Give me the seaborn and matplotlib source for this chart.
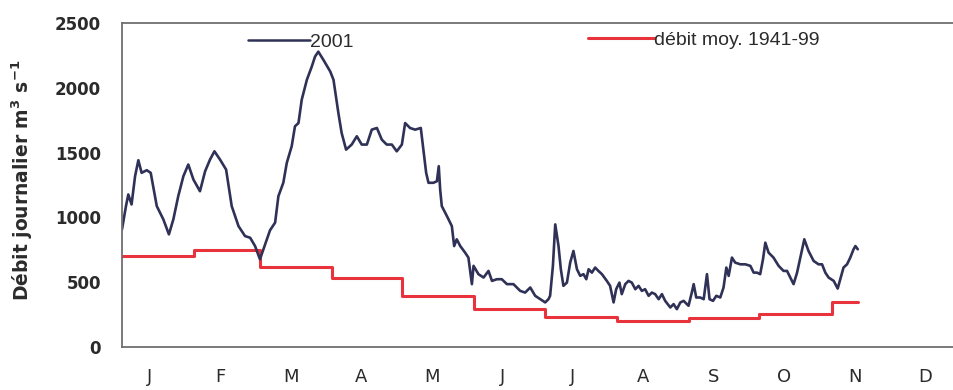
import matplotlib
matplotlib.use("Agg")
import matplotlib.pyplot as plt
import seaborn as sns
import pandas as pd
from matplotlib.lines import Line2D

# Daily discharge 2001 (day of year, m3/s), read at the turning points of the hydrograph
days_2001 = [0, 1.7, 2.7, 4.1, 5.6, 7, 8.4, 10.6, 12.3, 14.9, 17.7, 20.1, 22, 24.1, 26.3, 28.4,
             30.6, 33.4, 35.6, 37.7, 39.6, 42, 44.6, 47, 49.9, 52.7, 54.9, 57, 59.1, 60.6,
             63.4, 65.6, 67, 69.1, 70.6, 72.7, 74.1, 75.6, 77, 79.2, 81.3, 82.7, 84.1, 86.3,
             89.2, 90.6, 92.7, 94.1, 96, 98.4, 100.6, 102.7, 104.9, 107, 109.2, 111.3, 113.4,
             115.6, 117.7, 119.9, 121.3, 123.4, 125.6, 128, 129.1, 130.3, 131.3, 133.4, 134.9,
             135.7, 136.3, 137, 139.2, 141.3, 142.3, 143.4, 144.9, 147, 148.4, 149.9, 150.6,
             152.7, 154.9, 157, 158.5, 160.6, 162.7, 164.9, 167.7, 170.6, 172.7, 174.9, 177,
             179.2, 181.3, 182.7, 183.4, 184.6, 185.6, 187, 188, 189.1, 190.6, 192, 193.4,
             194.9, 196.3, 197.7, 198.9, 199.9, 201.3, 202.7, 204.1, 205.6, 207.7, 209.1,
             210.6, 211.7, 213.1, 214.1, 215.6, 217, 218.4, 219.9, 221.3, 222.7, 224.1, 225.6,
             227, 228.4, 229.9, 231.3, 232.7, 234.9, 236.3, 237.7, 239.2, 240.6, 242.7, 244.1,
             244.9, 246, 247.7, 249.2, 250.6, 251.7, 253.2, 254.6, 256.3, 257.7, 258.9, 259.9,
             261.3, 262.7, 264.9, 267, 269.2, 270.6, 272, 273.4, 274.6, 275.6, 277, 279.1,
             281.3, 283.4, 284.9, 286.3, 287.7, 289.2, 290.6, 292.3, 294.1, 296.3, 298.4,
             299.9, 301.3, 302.7, 304.9, 306.6, 307.7, 309.1, 310.6, 312, 313.4, 314.2, 315.2]
flow_2001 = [908, 1087, 1177, 1100, 1318, 1441, 1344, 1364, 1344, 1087, 985, 869, 985, 1164,
             1318, 1408, 1292, 1202, 1356, 1446, 1510, 1446, 1369, 1087, 933, 856, 843, 779,
             677, 754, 900, 960, 1164, 1267, 1421, 1549, 1703, 1728, 1908, 2062, 2164, 2241,
             2279, 2215, 2126, 2062, 1805, 1651, 1523, 1562, 1626, 1562, 1562, 1677, 1690,
             1600, 1562, 1562, 1510, 1562, 1728, 1690, 1677, 1690, 1523, 1344, 1267, 1267,
             1279, 1395, 1215, 1087, 1010, 933, 779, 831, 779, 728, 690, 485, 626, 562, 536,
             587, 510, 523, 523, 485, 485, 433, 420, 459, 395, 369, 344, 369, 395, 626, 946,
             779, 600, 472, 497, 651, 741, 600, 549, 562, 523, 600, 574, 613, 587, 562, 510,
             472, 344, 446, 497, 408, 485, 510, 497, 446, 472, 433, 446, 395, 420, 408, 369,
             408, 356, 305, 331, 292, 344, 356, 318, 420, 485, 382, 382, 369, 562, 369, 356,
             395, 382, 459, 613, 549, 690, 651, 638, 638, 626, 574, 574, 562, 677, 805, 728,
             690, 626, 587, 587, 536, 485, 574, 690, 831, 741, 664, 638, 638, 574, 536, 510,
             451, 523, 613, 638, 690, 754, 779, 754]

# Mean daily discharge 1941-99, one value per month (first day of month, m3/s)
month_start = [0, 31, 59, 90, 120, 151, 181, 212, 243, 273, 304, 315.2]
mean_flow = [702, 746, 615, 536, 395, 292, 228, 202, 220, 254, 344, 344]

month_ticks = [0, 31, 59, 90, 120, 151, 181, 212, 243, 273, 304, 334]
month_labels = ["J", "F", "M", "A", "M", "J", "J", "A", "S", "O", "N", "D"]
y_ticks = [0, 500, 1000, 1500, 2000, 2500]

df_2001 = pd.DataFrame({"jour": days_2001, "debit": flow_2001})
df_mean = pd.DataFrame({"jour": month_start, "debit": mean_flow})

sns.set_theme(style="white")
plt.rcParams["font.family"] = ["DejaVu Sans"]

BLUE = "#2f3157"
RED = "#e8323c"
AXIS = "#6f6f6f"
TEXT = "#2b2b2b"

fig = plt.figure(figsize=(9.54, 3.90), dpi=100)
ax = fig.add_axes([122 / 954, 43 / 390, 831 / 954, 324 / 390])

sns.lineplot(data=df_mean, x="jour", y="debit", ax=ax, color=RED, lw=2.2,
             drawstyle="steps-post", estimator=None, sort=False)
sns.lineplot(data=df_2001, x="jour", y="debit", ax=ax, color=BLUE, lw=1.9,
             estimator=None, sort=False)

ax.set_xlim(0, 356)
ax.set_ylim(0, 2500)

# Month boundaries as ticks, month initials in between
ax.set_xticks(month_ticks)
ax.set_xticklabels([])
ax.set_xticks([12 + 30.2 * i for i in range(12)], minor=True)
ax.set_xticklabels(month_labels, minor=True)
ax.tick_params(axis="x", which="major", direction="inout", length=7, width=1, color=AXIS)
ax.tick_params(axis="x", which="minor", length=0, pad=15, labelsize=13, labelcolor=TEXT)

ax.set_yticks(y_ticks)
ax.set_yticklabels([str(v) for v in y_ticks], fontweight="bold")
ax.tick_params(axis="y", direction="in", length=3, width=1, color=AXIS,
               pad=15, labelsize=12, labelcolor=TEXT)

for side in ["left", "bottom", "top"]:
    ax.spines[side].set_color(AXIS)
    ax.spines[side].set_linewidth(1.3)
ax.spines["right"].set_visible(False)

ax.set_xlabel("")
ax.set_ylabel(r"Débit journalier m$^{\mathbf{3}}$ s$^{\mathbf{-1}}$", fontsize=13.5,
              fontweight="bold", color=TEXT)
ax.yaxis.set_label_coords(-0.1047, 0.515)

legend_font = {"family": "Liberation Sans", "size": 14}
leg1 = ax.legend(handles=[Line2D([], [], color=BLUE, lw=1.8)], labels=["2001"],
                 loc="center left", bbox_to_anchor=(0.1516, 0.941), frameon=False,
                 borderpad=0, borderaxespad=0, handlelength=3.2, handletextpad=0.0,
                 prop=legend_font, labelcolor=TEXT)
ax.add_artist(leg1)
ax.legend(handles=[Line2D([], [], color=RED, lw=2.2)], labels=["débit moy. 1941-99"],
          loc="center left", bbox_to_anchor=(0.561, 0.947), frameon=False,
          borderpad=0, borderaxespad=0, handlelength=3.4, handletextpad=0.0,
          prop=legend_font, labelcolor=TEXT)

fig.savefig("out.png", dpi=100)
